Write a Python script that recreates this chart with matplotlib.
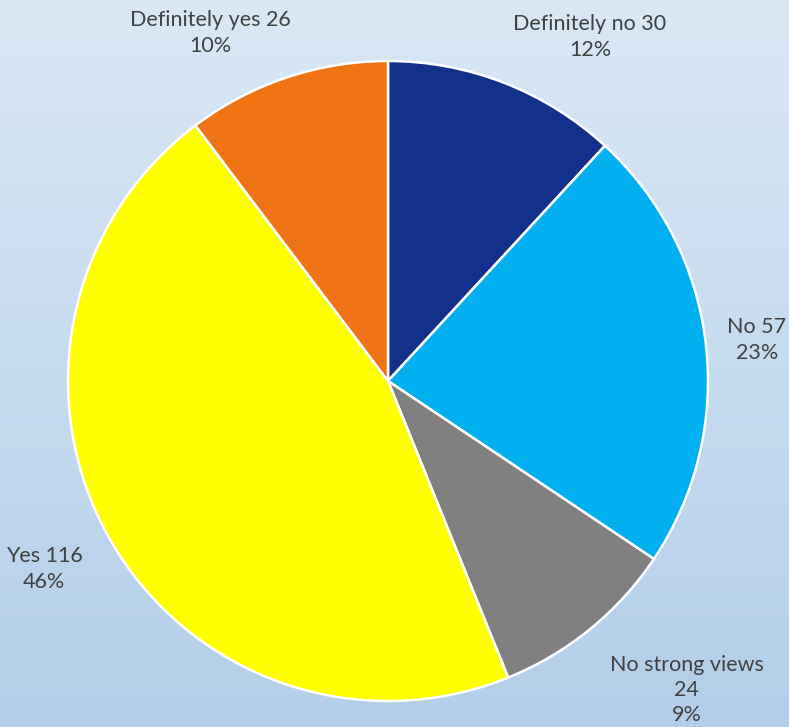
import numpy as np
import matplotlib
matplotlib.use("Agg")
from matplotlib import pyplot as plt
from matplotlib.colors import LinearSegmentedColormap

categories = ["Definitely no", "No", "No strong views", "Yes", "Definitely yes"]
counts = [30, 57, 24, 116, 26]
colors = ["#13318A", "#00B0F0", "#808080", "#FFFF00", "#F07314"]

plt.rcParams['font.family'] = ['Lato', 'DejaVu Sans']

W, H = 789, 727
fig = plt.figure(figsize=(W / 100, H / 100), dpi=100)

# background gradient
bg = fig.add_axes([0, 0, 1, 1])
grad = LinearSegmentedColormap.from_list("bg", ["#DAE8F5", "#B3CEE9"])
bg.imshow(np.linspace(0, 1, 256).reshape(-1, 1), aspect="auto", cmap=grad,
          extent=[0, 1, 0, 1])
bg.axis("off")

cx, cy, r = 388, 381, 320
ax = fig.add_axes([(cx - r) / W, (H - cy - r) / H, 2 * r / W, 2 * r / H])
ax.pie(counts, colors=colors, startangle=90, counterclock=False,
       wedgeprops=dict(edgecolor="white", linewidth=1.8))
ax.set_xlim(-1, 1)
ax.set_ylim(-1, 1)
ax.axis("off")

total = sum(counts)
label_pos = [(0.631, 1.075), (1.153, 0.128), (0.934, -0.966),
             (-1.075, -0.5875), (-0.556, 1.0875)]
for name, n, (x, y) in zip(categories, counts, label_pos):
    pct = round(100 * n / total)
    if name == "No strong views":
        txt = f"{name}\n{n}\n{pct}%"
    else:
        txt = f"{name} {n}\n{pct}%"
    ax.text(x, y, txt, ha="center", va="center", fontsize=15.5,
            color="#404040", linespacing=1.32, clip_on=False)

fig.savefig("out.png", dpi=100)
